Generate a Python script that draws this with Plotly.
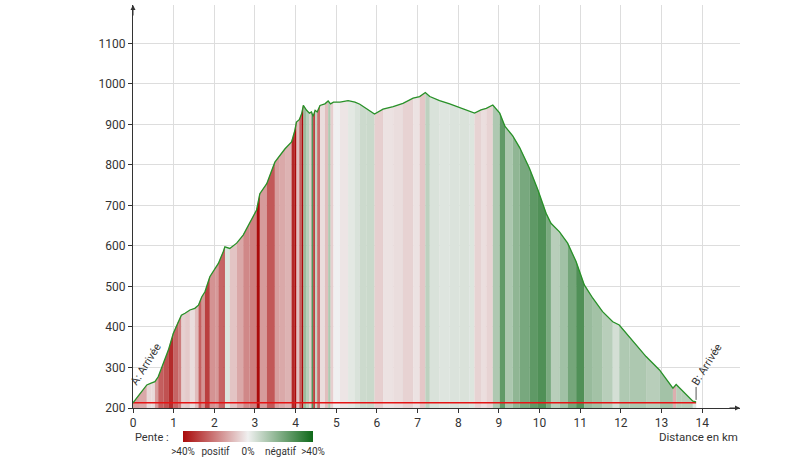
import plotly.graph_objects as go

# elevation profile (km, m)
distance_km = [0.00, 0.17, 0.34, 0.46, 0.54, 0.62, 0.75, 0.87, 0.99, 1.11,
               1.19, 1.28, 1.40, 1.52, 1.61, 1.69, 1.77, 1.89, 2.02, 2.10,
               2.22, 2.26, 2.38, 2.55, 2.71, 2.87, 3.04, 3.12, 3.29, 3.49,
               3.61, 3.74, 3.90, 3.98, 4.02, 4.09, 4.15, 4.19, 4.27, 4.34,
               4.39, 4.43, 4.48, 4.53, 4.60, 4.72, 4.80, 4.86, 4.93, 5.09,
               5.29, 5.46, 5.58, 5.75, 5.94, 6.15, 6.40, 6.64, 6.89, 7.05,
               7.19, 7.30, 7.54, 7.79, 8.03, 8.28, 8.40, 8.56, 8.69, 8.85,
               9.02, 9.15, 9.34, 9.51, 9.75, 9.96, 10.16, 10.28, 10.49, 10.69,
               10.90, 11.10, 11.31, 11.55, 11.80, 11.96, 12.21, 12.62, 12.95, 13.28,
               13.36, 13.50, 13.77, 13.85]
elevation_m = [213, 236, 257, 262, 265, 277, 310, 343, 384, 413,
               429, 434, 442, 446, 454, 474, 487, 524, 545, 557,
               586, 598, 594, 607, 627, 656, 689, 729, 754, 807,
               824, 840, 857, 885, 906, 912, 927, 947, 935, 928,
               931, 920, 935, 931, 947, 951, 958, 951, 955, 955,
               959, 955, 950, 939, 926, 938, 944, 952, 965, 969,
               979, 969, 959, 951, 942, 932, 928, 936, 940, 948,
               928, 895, 872, 843, 792, 738, 681, 656, 635, 607,
               561, 504, 471, 438, 413, 405, 376, 327, 294, 249,
               258, 244, 217, 215]

y_ticks = list(range(200, 1200, 100))
x_ticks = list(range(0, 15))
slope_tickvals = [-40, -20, 0, 20, 40]
slope_ticktext = [">40%", "positif", "0%", "négatif", ">40%"]

Y_MIN = 200
RED = (170, 10, 10)
MID = (240, 240, 240)
GREEN = (15, 105, 25)


def mix(a, b, t):
    return "rgb(%d,%d,%d)" % tuple(round(a[k] * (1 - t) + b[k] * t) for k in range(3))


def slope_color(slope_pct):
    t = min(abs(slope_pct) / 40.0, 1.0)
    return mix(MID, RED if slope_pct > 0 else GREEN, t)


fig = go.Figure()

# one filled strip per segment, coloured by its slope
for i in range(len(distance_km) - 1):
    d0, d1 = distance_km[i], distance_km[i + 1]
    e0, e1 = elevation_m[i], elevation_m[i + 1]
    slope = (e1 - e0) / ((d1 - d0) * 1000) * 100
    fig.add_trace(go.Scatter(
        x=[d0, d1, d1, d0], y=[e0, e1, Y_MIN, Y_MIN],
        fill="toself", fillcolor=slope_color(slope),
        mode="lines", line=dict(width=0.3, color=slope_color(slope)),
        hoverinfo="skip", showlegend=False,
    ))

# start altitude reference
fig.add_trace(go.Scatter(
    x=[distance_km[0], distance_km[-1]], y=[elevation_m[0], elevation_m[0]],
    mode="lines", line=dict(color="rgb(230,20,20)", width=1.5),
    hoverinfo="skip", showlegend=False,
))

fig.add_trace(go.Scatter(
    x=distance_km, y=elevation_m, mode="lines",
    line=dict(color="rgb(40,145,40)", width=1.3),
    showlegend=False,
))

# dummy trace just for the slope legend
fig.add_trace(go.Scatter(
    x=[None], y=[None], mode="markers", showlegend=False, hoverinfo="skip",
    marker=dict(
        color=[0], cmin=-40, cmax=40,
        colorscale=[[0, mix(RED, RED, 0)], [0.5, mix(MID, MID, 0)], [1, mix(GREEN, GREEN, 0)]],
        showscale=True,
        colorbar=dict(
            orientation="h", thicknessmode="pixels", thickness=11,
            lenmode="pixels", len=130, x=0.0824, xanchor="left",
            y=-0.058, yanchor="top", xpad=0, ypad=0, outlinewidth=0,
            tickvals=slope_tickvals, ticktext=slope_ticktext, ticks="",
            tickfont=dict(size=10, color="#333"),
        ),
    ),
))

fig.add_shape(type="line", x0=distance_km[-1], x1=distance_km[-1],
              y0=elevation_m[-1] + 5, y1=elevation_m[-1] + 37,
              line=dict(color="#555", width=1))

fig.add_annotation(x=distance_km[0], y=elevation_m[0], text="A: Arrivée",
                   showarrow=False, textangle=-58, xshift=13, yshift=38,
                   font=dict(size=11, color="#333"))
fig.add_annotation(x=distance_km[-1], y=elevation_m[-1], text="B: Arrivée",
                   showarrow=False, textangle=-58, xshift=11, yshift=37,
                   font=dict(size=11, color="#333"))
fig.add_annotation(xref="paper", yref="paper", x=1, y=-0.072, text="Distance en km",
                   showarrow=False, xanchor="right", yanchor="middle",
                   font=dict(size=11.5, color="#333"))
fig.add_annotation(xref="paper", yref="paper", x=0, y=-0.072, text="Pente :",
                   showarrow=False, xanchor="left", yanchor="middle",
                   font=dict(size=11, color="#333"))

# axis arrowheads
fig.add_annotation(xref="paper", yref="paper", x=0, y=1, ax=0, ay=12, text="",
                   showarrow=True, arrowhead=2, arrowsize=1, arrowwidth=1, arrowcolor="#333")
fig.add_annotation(xref="paper", yref="paper", x=1, y=0, ax=-12, ay=0, text="",
                   showarrow=True, arrowhead=2, arrowsize=1, arrowwidth=1, arrowcolor="#333")

fig.update_layout(
    width=799, height=464,
    margin=dict(l=133, r=59, t=5, b=56),
    plot_bgcolor="white", paper_bgcolor="white",
    font=dict(family="Roboto", size=12, color="#333"),
    xaxis=dict(range=[0, 14.93], tickvals=x_ticks, showline=True, linecolor="#333",
               ticks="outside", ticklen=4, tickcolor="#333", gridcolor="#ddd",
               zeroline=False, fixedrange=True),
    yaxis=dict(range=[Y_MIN, 1195], tickvals=y_ticks, showline=True, linecolor="#333",
               ticks="outside", ticklen=4, tickcolor="#333", gridcolor="#ddd",
               zeroline=False, fixedrange=True),
)

# page margin would push the figure off the window
fig.write_html("out.html", config={"displayModeBar": False},
               post_script="document.body.style.margin='0px';")
